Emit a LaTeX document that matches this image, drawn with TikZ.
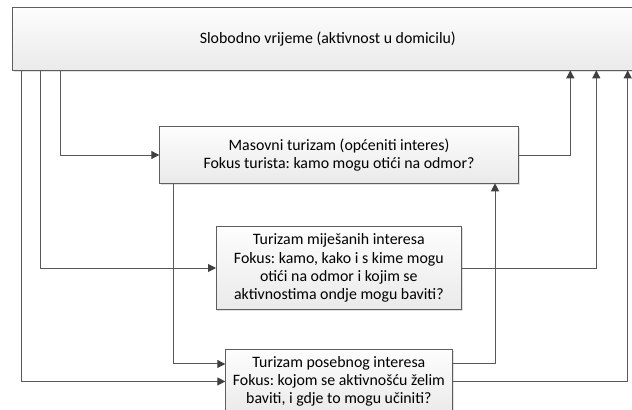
\documentclass[tikz,border=0pt]{standalone}
\usepackage{fontspec}
\setmainfont{Carlito}
\frenchspacing
\usetikzlibrary{arrows.meta,shadows}
\definecolor{linegray}{HTML}{595959}
\definecolor{tipgray}{HTML}{404040}
\definecolor{boxline}{HTML}{5E5E5E}
\definecolor{boxbot}{HTML}{EAEAEA}
\definecolor{boxtop}{HTML}{FDFDFD}
\tikzset{
  box/.style={draw=boxline, line width=0.75pt, inner sep=0pt, outer sep=0pt,
    top color=boxtop, bottom color=boxbot, align=center,
    font=\fontsize{11.9pt}{13.7pt}\selectfont,
    drop shadow={opacity=0.12, shadow xshift=1pt, shadow yshift=-1pt, fill=black}},
  conn/.style={draw=linegray, line width=0.75pt,
    -{Triangle[length=6pt,width=6pt,color=tipgray]}},
}
\begin{document}
\begin{tikzpicture}[x=0.75pt,y=-0.75pt]
\useasboundingbox (0,0) rectangle (632,410);
\fill[white] (0,0) rectangle (632,410);
\clip (0,0) rectangle (632,410);
% boxes
\node[box, minimum width={630.3*0.75pt}, minimum height={63*0.75pt}] (top) at (327.85,38.8)
  {Slobodno vrijeme (aktivnost u domicilu)};
\node[box, minimum width={359.4*0.75pt}, minimum height={56.6*0.75pt}] (mas) at (339,155)
  {Masovni turizam (općeniti interes)\\Fokus turista: kamo mogu otići na odmor?};
\node[box, minimum width={245.7*0.75pt}, minimum height={82.6*0.75pt}] (mix) at (338.85,268)
  {Turizam miješanih interesa\\Fokus: kamo, kako i s kime mogu\\otići na odmor i kojim se\\aktivnostima ondje mogu baviti?};
\node[box, minimum width={227.2*0.75pt}, minimum height={64.3*0.75pt}] (spe) at (338.9,381.45)
  {Turizam posebnog interesa\\Fokus: kojom se aktivnošću želim\\baviti, i gdje to mogu učiniti?};
% column positions
\coordinate (xa) at (21.7,0);
\coordinate (xb) at (40.7,0);
\coordinate (xc) at (60,0);
\coordinate (xd) at (173,0);
\coordinate (xe) at (495,0);
\coordinate (xf) at (570.3,0);
\coordinate (xg) at (596.3,0);
\coordinate (xh) at (627.7,0);
% connectors out of the top box
\draw[conn] (top.south -| xc) |- (mas.west);
\draw[conn] (top.south -| xb) |- (mix.west);
\draw[conn] (top.south -| xa) |- (spe.west);
% mass -> special
\draw[conn] (mas.south -| xd) |- ([yshift=13.1pt]spe.west);
% back to the top box
\draw[conn] (mas.east) -| (top.south -| xf);
\draw[conn] (mix.east) -| (top.south -| xg);
\draw[conn] (spe.east) -| (top.south -| xh);
% special -> mass
\draw[conn] ([yshift=13.1pt]spe.east) -| (mas.south -| xe);
\end{tikzpicture}
\end{document}
